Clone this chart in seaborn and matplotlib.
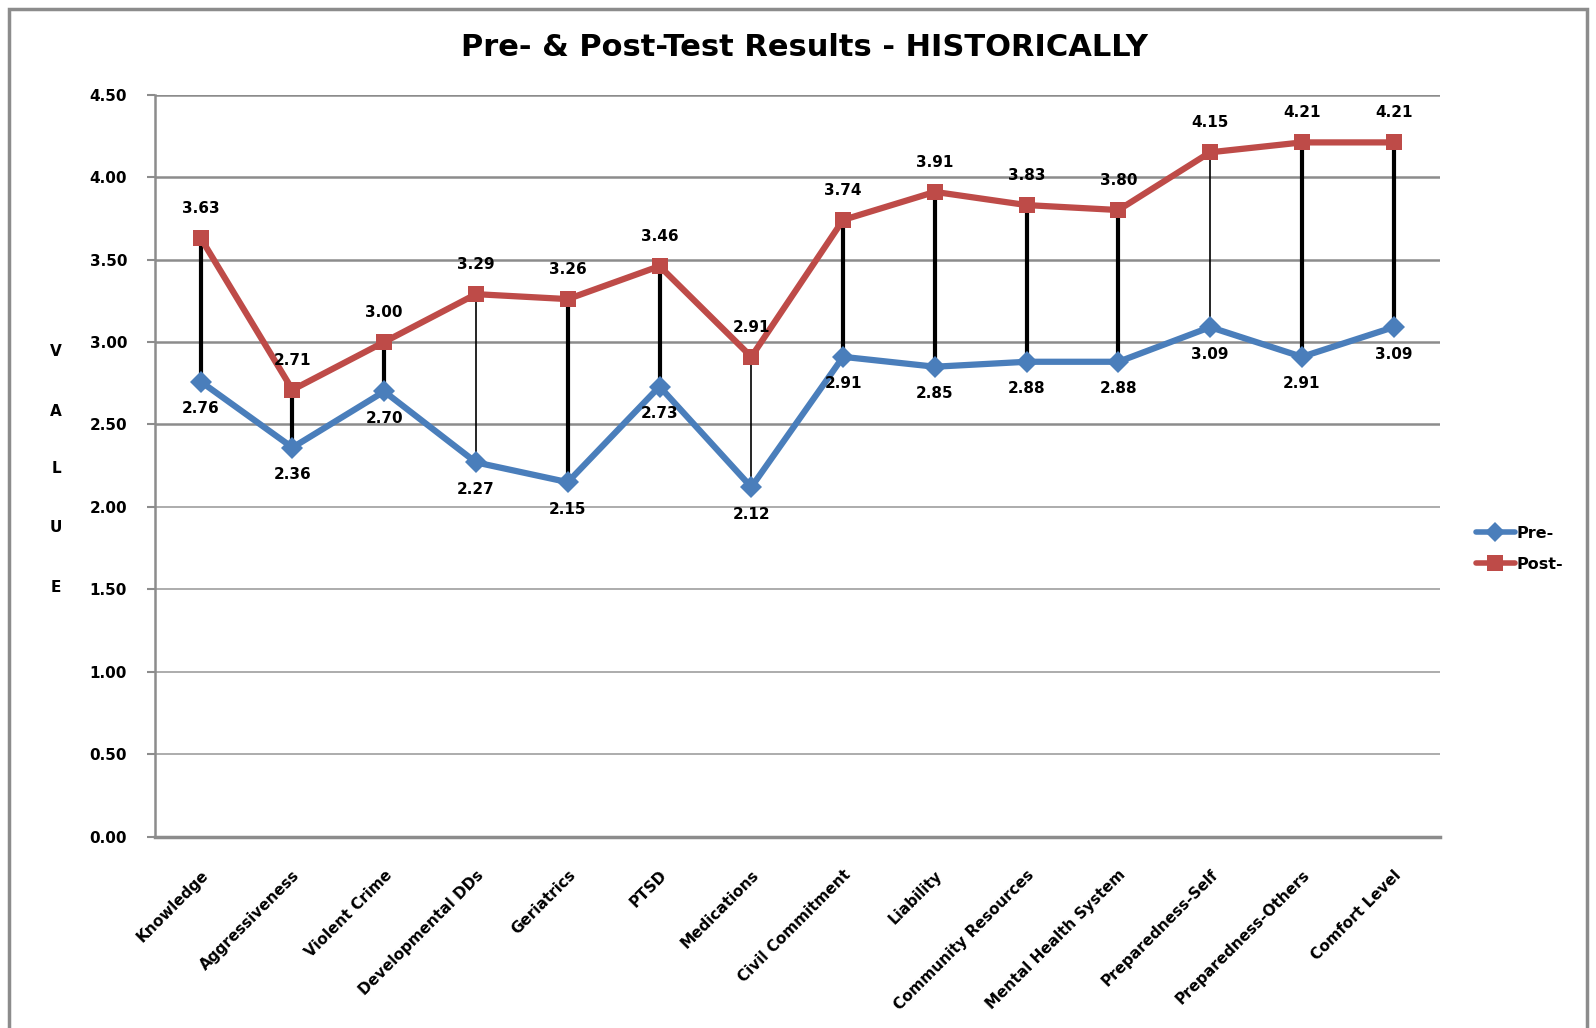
import matplotlib
matplotlib.use("Agg")
import matplotlib.pyplot as plt
import matplotlib.patches as mpatches
import seaborn as sns
import pandas as pd

categories = ["Knowledge", "Aggressiveness", "Violent Crime", "Developmental DDs",
              "Geriatrics", "PTSD", "Medications", "Civil Commitment", "Liability",
              "Community Resources", "Mental Health System", "Preparedness-Self",
              "Preparedness-Others", "Comfort Level"]
pre = [2.76, 2.36, 2.70, 2.27, 2.15, 2.73, 2.12, 2.91, 2.85, 2.88, 2.88, 3.09, 2.91, 3.09]
post = [3.63, 2.71, 3.00, 3.29, 3.26, 3.46, 2.91, 3.74, 3.91, 3.83, 3.80, 4.15, 4.21, 4.21]
yticks = [0.0, 0.5, 1.0, 1.5, 2.0, 2.5, 3.0, 3.5, 4.0, 4.5]

sns.set_style("white")
plt.rcParams['font.family'] = ['DejaVu Sans']
plt.rcParams['text.color'] = 'black'
plt.rcParams['xtick.color'] = 'black'
plt.rcParams['ytick.color'] = 'black'

df = pd.DataFrame({"pos": list(range(len(categories))) * 2,
                   "value": pre + post,
                   "series": ["Pre-"] * len(pre) + ["Post-"] * len(post)})

fig = plt.figure(figsize=(15.96, 10.28), dpi=100)
ax = fig.add_axes([0.097, 0.186, 0.805, 0.722])

blue = "#4a7ebb"
red = "#be4b48"

# high-low drop lines
thin = {3, 6, 11}
for i, (a, b) in enumerate(zip(pre, post)):
    ax.vlines(i, a, b, color="black", lw=1.2 if i in thin else 3, zorder=2)

sns.lineplot(data=df, x="pos", y="value", hue="series", style="series",
             palette={"Pre-": blue, "Post-": red},
             markers={"Pre-": "D", "Post-": "s"}, dashes=False,
             markersize=11, lw=4.5, markeredgewidth=0, ax=ax, zorder=3,
             legend=False)

for i, v in enumerate(post):
    ax.annotate(f"{v:.2f}", (i, v), xytext=(0, 16), textcoords="offset points",
                ha="center", va="bottom", fontsize=11, fontweight="bold")
for i, v in enumerate(pre):
    ax.annotate(f"{v:.2f}", (i, v), xytext=(0, -14), textcoords="offset points",
                ha="center", va="top", fontsize=11, fontweight="bold")

ax.set_xlim(-0.5, len(categories) - 0.5)
ax.set_ylim(0, 4.5)
ax.set_yticks(yticks)
ax.set_yticklabels([f"{t:.2f}" for t in yticks], fontsize=11, fontweight="bold")
ax.yaxis.grid(True, color="#8c8c8c", lw=1.8)
for t, gl in zip(yticks, ax.get_ygridlines()):
    if t < 2.5:
        gl.set_color("#a6a6a6")
        gl.set_linewidth(1.3)
ax.set_axisbelow(True)

ax.set_xticks(range(len(categories)))
ax.set_xticklabels(categories, rotation=45, ha="right", rotation_mode="anchor",
                   fontsize=11, fontweight="bold")
ax.set_xticks([i - 0.5 for i in range(len(categories) + 1)], minor=True)
ax.tick_params(axis="x", which="major", length=0, pad=22)
ax.tick_params(axis="x", which="minor", length=6, width=2, color="#8c8c8c", direction="out")
ax.tick_params(axis="y", length=6, width=1.5, color="#8c8c8c", left=True, pad=14)

for s in ["top", "right"]:
    ax.spines[s].set_visible(False)
ax.spines["left"].set_color("#8c8c8c")
ax.spines["left"].set_linewidth(1.8)
ax.spines["bottom"].set_color("#8c8c8c")
ax.spines["bottom"].set_linewidth(2.5)
ax.set_xlabel("")
ax.set_ylabel("")

fig.text(0.504, 0.954, "Pre- & Post-Test Results - HISTORICALLY", ha="center", va="center",
         fontsize=22, fontweight="bold")

for letter, y in zip("VALUE", [351, 411, 469, 528, 587]):
    fig.text(56 / 1596, 1 - y / 1028, letter, ha="center", va="center",
             fontsize=11, fontweight="bold")

handles = [plt.Line2D([], [], color=blue, lw=4, marker="D", markersize=10, markeredgewidth=0),
           plt.Line2D([], [], color=red, lw=4, marker="s", markersize=11, markeredgewidth=0)]
fig.legend(handles, ["Pre-", "Post-"], loc="center left", bbox_to_anchor=(0.916, 0.466),
           frameon=False, prop={"weight": "bold", "size": 11.5},
           handlelength=2.4, handletextpad=0.1, labelspacing=1.0)

fig.patches.append(mpatches.Rectangle((9 / 1596, -0.05), 1578 / 1596, 1 - 9 / 1028 + 0.05,
                                      transform=fig.transFigure, fill=False,
                                      edgecolor="#8c8c8c", lw=2.5))

fig.savefig("out.png", dpi=100)
